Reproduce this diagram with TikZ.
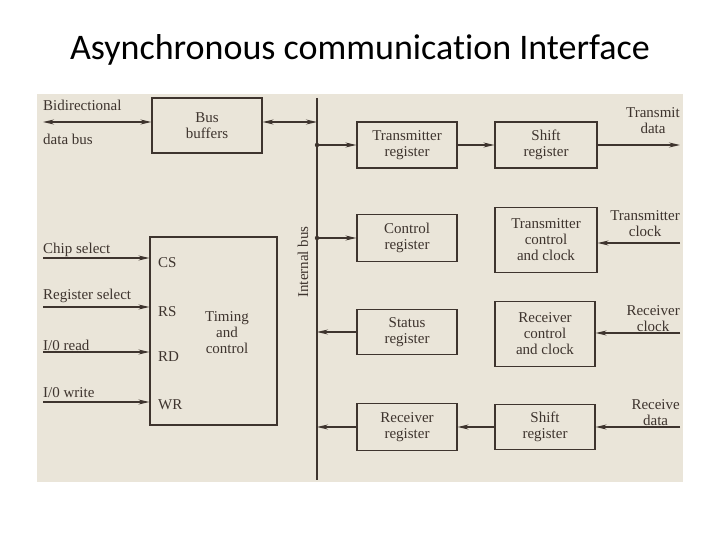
\documentclass[tikz,border=0pt]{standalone}
\usepackage{fontspec}
\setmainfont{Liberation Serif}
\newfontfamily\titlefont[Ligatures={NoCommon}]{Carlito}
\usetikzlibrary{arrows.meta}
\definecolor{paper}{RGB}{234,229,217}
\definecolor{ink}{RGB}{62,52,46}
\begin{document}
\begin{tikzpicture}[x=1pt,y=-1pt,
  blk/.style={draw=ink,line width=1.2pt,fill=paper,align=center,inner sep=0pt,text=ink,font=\fontsize{15}{16}\selectfont},
  lbl/.style={inner sep=0pt,align=center,text=ink,font=\fontsize{15}{16}\selectfont},
  wire/.style={draw=ink,line width=1.2pt},
  arr/.style={wire,-{Stealth[length=11pt,width=5pt]}},
  biarr/.style={wire,{Stealth[length=11pt,width=5pt]}-{Stealth[length=11pt,width=5pt]}},
  jdot/.style={fill=ink}]
\useasboundingbox (0,0) rectangle (720,540);
\fill[paper] (37,94) rectangle (683,482);
\node[inner sep=0pt,font=\titlefont\fontsize{36}{40}\selectfont] (title) at (360,50) {Asynchronous communication Interface};
% blocks
\node[blk,minimum width=110pt,minimum height=55pt] (buf) at (207,125.5) {Bus\\buffers};
\node[blk,minimum width=127pt,minimum height=188pt] (tim) at (213.5,331) {};
\node[lbl] (timtxt) at (227,333) {Timing\\and\\control};
\node[lbl,anchor=west] (cs) at (158,263) {CS};
\node[lbl,anchor=west] (rs) at (158,312) {RS};
\node[lbl,anchor=west] (rd) at (158,357) {RD};
\node[lbl,anchor=west] (wr) at (158,405) {WR};
\node[blk,minimum width=100pt,minimum height=46pt] (txreg) at (407,145) {Transmitter\\register};
\node[blk,minimum width=102pt,minimum height=46pt] (txsh) at (546,145) {Shift\\register};
\node[blk,minimum width=100pt,minimum height=47pt] (ctrl) at (407,238) {Control\\register};
\node[blk,minimum width=102pt,minimum height=65pt] (txctl) at (546,240) {Transmitter\\control\\and clock};
\node[blk,minimum width=100pt,minimum height=45pt] (stat) at (407,332) {Status\\register};
\node[blk,minimum width=100pt,minimum height=65pt] (rxctl) at (545,334) {Receiver\\control\\and clock};
\node[blk,minimum width=100pt,minimum height=47pt] (rxreg) at (407,427) {Receiver\\register};
\node[blk,minimum width=100pt,minimum height=45pt] (rxsh) at (545,427) {Shift\\register};
% internal bus
\coordinate (bustop) at (317,98);
\coordinate (busbot) at (317,480);
\node[lbl,rotate=90] (buslbl) at (303,262) {Internal bus};
\draw[wire] (bustop)--(busbot);
% outside ends
\coordinate (bidir) at (43,122);
\coordinate (csin) at (43,258);
\coordinate (rsin) at (43,307);
\coordinate (rdin) at (43,352);
\coordinate (wrin) at (43,402);
\coordinate (txout) at (680,145);
\coordinate (txclk) at (680,243);
\coordinate (rxclk) at (680,333);
\coordinate (rxin) at (680,427);
\node[lbl,anchor=west] (l1) at (43,105) {Bidirectional};
\node[lbl,anchor=west] (l2) at (43,139) {data bus};
\node[lbl,anchor=west] (l3) at (43,250) {Chip select};
\node[lbl,anchor=west] (l4) at (43,296) {Register select};
\node[lbl,anchor=west] (l5) at (43,345) {I/0 read};
\node[lbl,anchor=west] (l6) at (43,393) {I/0 write};
\node[lbl,anchor=east] (r1) at (680,121) {Transmit\\data};
\node[lbl,anchor=east] (r2) at (680,224) {Transmitter\\clock};
\node[lbl,anchor=east] (r3) at (680,319) {Receiver\\clock};
\node[lbl,anchor=east] (r4) at (680,413) {Receive\\data};
% connectors
\draw[biarr] (bidir)--(bidir-|buf.west);
\draw[biarr] (bidir-|buf.east)--(bidir-|bustop);
\draw[arr] (csin)--(csin-|tim.west);
\draw[arr] (rsin)--(rsin-|tim.west);
\draw[arr] (rdin)--(rdin-|tim.west);
\draw[arr] (wrin)--(wrin-|tim.west);
\draw[arr] (bustop|-txreg)--(txreg);
\draw[arr] (bustop|-ctrl)--(ctrl);
\fill[jdot] (bustop|-txreg) circle (2.2pt) (bustop|-ctrl) circle (2.2pt);
\draw[arr] (txreg)--(txsh);
\draw[arr] (txsh)--(txout);
\draw[arr] (txclk)--(txclk-|txctl.east);
\draw[arr] (stat)--(stat-|bustop);
\draw[arr] (rxclk)--(rxclk-|rxctl.east);
\draw[arr] (rxreg)--(rxreg-|bustop);
\draw[arr] (rxsh)--(rxreg);
\draw[arr] (rxin)--(rxin-|rxsh.east);
\end{tikzpicture}
\end{document}
